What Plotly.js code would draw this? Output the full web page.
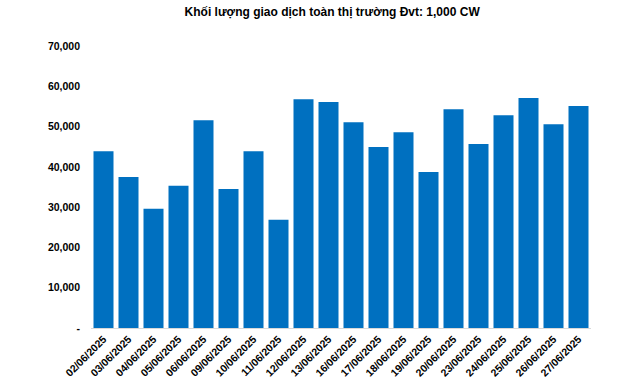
<!DOCTYPE html>
<html><head><meta charset="utf-8">
<script src="https://cdn.plot.ly/plotly-3.0.1.min.js"></script>
<style>html,body{margin:0;padding:0;background:#fff}#c{width:640px;height:383px}</style>
</head><body><div id="c"></div>
<script>
const dates = ["02/06/2025","03/06/2025","04/06/2025","05/06/2025","06/06/2025","09/06/2025","10/06/2025","11/06/2025","12/06/2025","13/06/2025","16/06/2025","17/06/2025","18/06/2025","19/06/2025","20/06/2025","23/06/2025","24/06/2025","25/06/2025","26/06/2025","27/06/2025"];
const volumes = [43900,37500,29600,35300,51600,34500,43900,26900,56800,56100,51100,44900,48600,38700,54300,45700,52800,57100,50600,55100];
const tickVals = [0,10000,20000,30000,40000,50000,60000,70000];
const tickText = ["-","10,000","20,000","30,000","40,000","50,000","60,000","70,000"];
const fontFam = "Arial, 'Liberation Sans', sans-serif";
Plotly.newPlot('c', [{
  type:'bar', x:dates, y:volumes, marker:{color:'#0070C0'}, hoverinfo:'none'
}], {
  width:640, height:383,
  margin:{l:91, r:49, t:46, b:54.5, autoexpand:false},
  paper_bgcolor:'#fff', plot_bgcolor:'#fff',
  bargap:0.2,
  showlegend:false,
  title:{text:'<b>Khối lượng giao dịch toàn thị trường Đvt: 1,000 CW</b>', x:0.519, xref:'container', xanchor:'center', y:0.968, yref:'container', yanchor:'middle', font:{family:fontFam, size:12, color:'#000'}},
  xaxis:{type:'category', tickangle:-45, showline:true, linecolor:'#d9d9d9', linewidth:1, showgrid:false, ticks:'', automargin:false,
    tickfont:{family:fontFam, size:10.5, color:'#000', weight:'bold'}},
  yaxis:{range:[0,70000], tickvals:tickVals, ticktext:tickText, showgrid:false, zeroline:false, showline:false, ticks:'', automargin:false,
    ticklabelstandoff:10, tickfont:{family:fontFam, size:10.5, color:'#000', weight:'bold'}}
}, {displayModeBar:false, staticPlot:true});
</script></body></html>
